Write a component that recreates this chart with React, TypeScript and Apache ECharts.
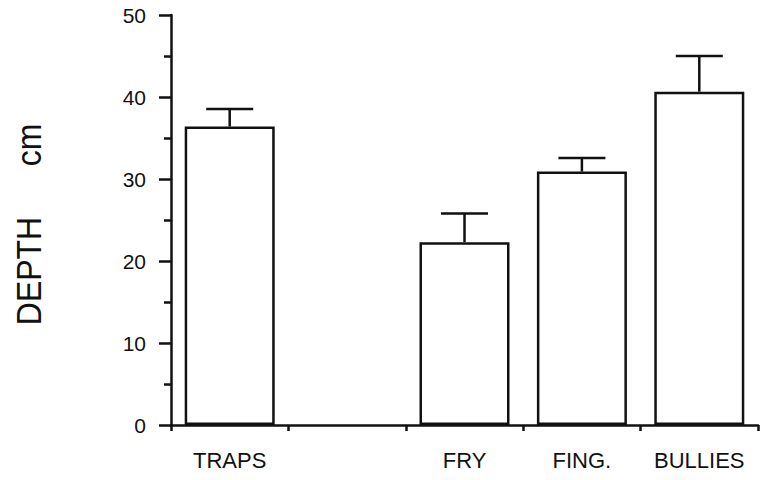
import React, { useEffect, useRef } from "react";
import * as echarts from "echarts";

const categories = ["TRAPS", "", "FRY", "FING.", "BULLIES"];
const means: (number | null)[] = [36.4, null, 22.3, 30.9, 40.65];
const upperErr: (number | null)[] = [38.55, null, 25.8, 32.55, 45.0];
const yTicks = { min: 0, max: 50, interval: 10 };

const FONT = "'Liberation Sans', Arial, Helvetica, sans-serif";
const INK = "#111";

export default function App() {
  const ref = useRef<HTMLDivElement>(null);
  useEffect(() => {
    if (!ref.current) return;
    const chart = echarts.init(ref.current, undefined, { renderer: "svg" });
    const errData = means
      .map((m, i) => (m == null || upperErr[i] == null ? null : [i, m, upperErr[i] as number]))
      .filter((d) => d !== null);
    chart.setOption({
      animation: false,
      backgroundColor: "#fff",
      grid: { left: 171, right: 4, top: 15, bottom: 55, containLabel: false },
      xAxis: {
        type: "category",
        data: categories,
        boundaryGap: true,
        axisLine: { lineStyle: { color: INK, width: 2.5 } },
        axisTick: { show: true, alignWithLabel: false, length: 6, lineStyle: { color: INK, width: 2.5 } },
        axisLabel: { color: INK, fontSize: 22, fontFamily: FONT, margin: 24, interval: 0 },
        splitLine: { show: false },
      },
      yAxis: {
        type: "value",
        min: yTicks.min,
        max: yTicks.max,
        interval: yTicks.interval,
        axisLine: { show: true, lineStyle: { color: INK, width: 2.5 } },
        axisTick: { show: true, length: 12, lineStyle: { color: INK, width: 2.5 } },
        minorTick: { show: true, splitNumber: 2, length: 7, lineStyle: { color: INK, width: 2.5 } },
        axisLabel: { color: INK, fontSize: 21, fontFamily: FONT, margin: 25 },
        splitLine: { show: false },
      },
      graphic: [
        {
          type: "text",
          x: 28,
          y: 271,
          rotation: Math.PI / 2,
          scaleY: 1.12,
          style: { text: "DEPTH", fontSize: 32, fontFamily: FONT, fill: INK, align: "center", verticalAlign: "middle" },
        },
        {
          type: "text",
          x: 28,
          y: 145,
          rotation: Math.PI / 2,
          scaleY: 1.12,
          style: { text: "cm", fontSize: 32, fontFamily: FONT, fill: INK, align: "center", verticalAlign: "middle" },
        },
      ],
      series: [
        {
          type: "bar",
          data: means,
          barWidth: 90,
          itemStyle: { color: "#fff", borderColor: INK, borderWidth: 2.5 },
          z: 3,
        },
        {
          type: "custom",
          data: errData,
          z: 2,
          renderItem: (params: any, api: any) => {
            const idx = api.value(0);
            const m = api.value(1);
            const u = api.value(2);
            const base = api.coord([idx, m]);
            const top = api.coord([idx, u]);
            const half = 23.5;
            return {
              type: "group",
              children: [
                { type: "line", shape: { x1: top[0], y1: base[1], x2: top[0], y2: top[1] }, style: { stroke: INK, lineWidth: 2.5 } },
                { type: "line", shape: { x1: top[0] - half, y1: top[1], x2: top[0] + half, y2: top[1] }, style: { stroke: INK, lineWidth: 2.5 } },
              ],
            };
          },
        },
      ],
    });
    return () => chart.dispose();
  }, []);
  return <div ref={ref} style={{ position: "fixed", left: 0, top: 0, width: 762, height: 480 }} />;
}
